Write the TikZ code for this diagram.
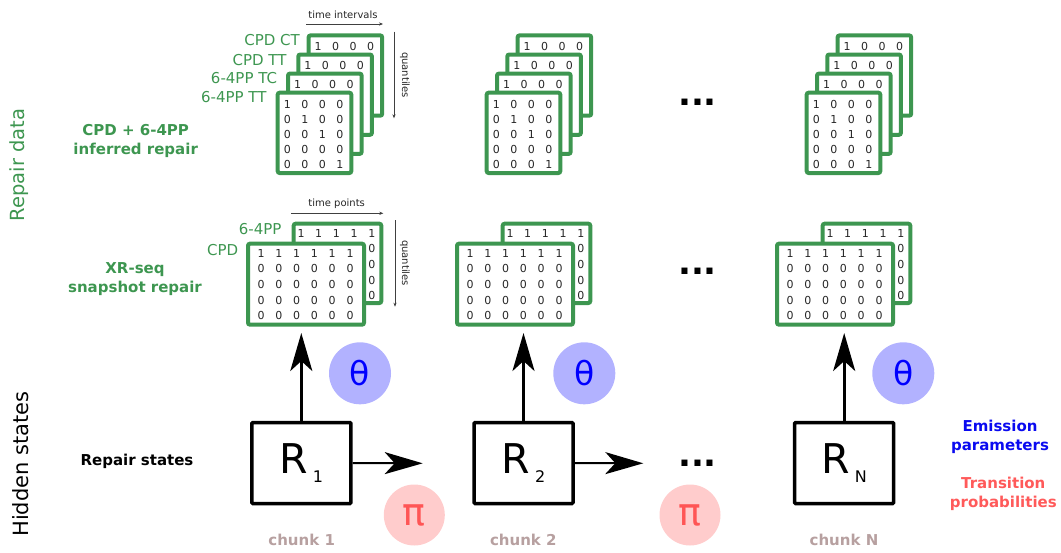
\documentclass[tikz,border=0pt]{standalone}
\usepackage{fontspec}
\setmainfont{DejaVu Sans}
\usetikzlibrary{arrows.meta}
\definecolor{rgreen}{RGB}{61,150,80}
\definecolor{thetafill}{RGB}{178,178,255}
\definecolor{thetatext}{RGB}{0,0,255}
\definecolor{pifill}{RGB}{255,204,204}
\definecolor{pitext}{RGB}{255,85,85}
\definecolor{chunkcol}{RGB}{183,160,160}
\definecolor{emcol}{RGB}{10,10,240}
\definecolor{trcol}{RGB}{255,90,90}
\newcommand{\setfs}[2]{\fontsize{#1}{#2}\selectfont}
\tikzset{
  frame/.style={draw=rgreen, line width=4pt, fill=white, rounded corners=2pt, anchor=north west, inner sep=0pt, outer sep=0pt},
  digit/.style={inner sep=0pt, font=\setfs{11}{13}, text=black!85},
  lbl/.style={inner sep=0pt, anchor=east, text=rgreen, font=\setfs{15}{18}},
  small/.style={inner sep=0pt, font=\setfs{10}{12}, text=black!85},
  smallarrow/.style={-{Stealth[length=4pt,width=3.2pt]}, line width=0.6pt, draw=black!75},
  rbox/.style={draw, line width=3.5pt, minimum width=99pt, minimum height=81pt, inner sep=0pt, rounded corners=1pt},
  bigarrow/.style={-{Stealth[length=38pt,width=22pt,inset=10pt]}, draw=black},
  thetac/.style={circle, fill=thetafill, minimum size=62pt, inner sep=0pt, text=thetatext, font=\setfs{33}{36}},
  pic/.style={circle, fill=pifill, minimum size=61pt, inner sep=0pt, text=pitext, font=\setfs{38}{40}},
  side/.style={inner sep=0pt, align=center, font=\bfseries\setfs{15}{19}},
  chunklbl/.style={inner sep=0pt, text=chunkcol, font=\bfseries\setfs{15}{18}},
  dotsty/.style={inner sep=0pt, font=\bfseries\setfs{34}{36}}
}
\begin{document}
\begin{tikzpicture}[x=1pt,y=-1pt]
\useasboundingbox (0,0) rectangle (1061,552);

% ---------- matrix stacks ----------
\foreach \c/\s in {1/0,2/209,N/529}{
  \begin{scope}[xshift=\s pt]
    % inferred repair stack (top)
    \foreach \k/\lx/\ty in {4/306.6/33.4,3/296.3/52.5,2/286/71.6}{
      \node[frame, minimum width=73.6pt, minimum height=80.3pt] (T\c-\k) at ({\lx+2},{\ty+2}) {};
      \foreach \d [count=\j] in {1,0,0,0}
        \node[digit] (T\c-\k-\j) at ({\lx+11.6+17.5*(\j-1)},{\ty+13}) {\d};
    }
    \node[frame, minimum width=73.6pt, minimum height=80.3pt] (T\c-1) at (277.7,92.7) {};
    \foreach \row [count=\i] in {{1,0,0,0},{0,1,0,0},{0,0,1,0},{0,0,0,0},{0,0,0,1}}
      \foreach \d [count=\j] in \row
        \node[digit] (Tf\c-\i-\j) at ({287.3+17.5*(\j-1)},{104.1+15.1*(\i-1)}) {\d};
    % snapshot repair stack (bottom)
    \node[frame, minimum width=87.6pt, minimum height=79.3pt] (B\c-2) at (293.7,223.7) {};
    \foreach \j in {1,...,5}
      \node[digit] (Bb\c-1-\j) at ({301+17.7*(\j-1)},233.3) {1};
    \foreach \i in {2,...,5}
      \node[digit] (Bb\c-\i-5) at (371.8,{233.3+15.6*(\i-1)}) {0};
    \node[frame, minimum width=116pt, minimum height=81pt] (B\c-1) at (248,243.7) {};
    \foreach \row [count=\i] in {{1,1,1,1,1,1},{0,0,0,0,0,0},{0,0,0,0,0,0},{0,0,0,0,0,0},{0,0,0,0,0,0}}
      \foreach \d [count=\j] in \row
        \node[digit] (Bf\c-\i-\j) at ({261+17.8*(\j-1)},{253.3+15.6*(\i-1)}) {\d};
  \end{scope}
}

% ---------- labels of chunk 1 stacks ----------
\node[lbl] (lCT) at (300,40) {CPD CT};
\node[lbl] (lTT) at (286.7,60) {CPD TT};
\node[lbl] (lTC) at (277.3,77.7) {6-4PP TC};
\node[lbl] (lTT2) at (266.7,96.7) {6-4PP TT};
\node[lbl] (l64) at (281.7,229.3) {6-4PP};
\node[lbl] (lCPD) at (238.3,250) {CPD};

\node[small] (ti) at (343,15) {time intervals};
\coordinate (tia) at (306,24); \coordinate (tib) at (383,24);
\draw[smallarrow] (tia) -- (tib);
\node[small, rotate=-90] (q1) at (405,75) {quantiles};
\coordinate (q1a) at (394,31.7); \coordinate (q1b) at (394,118.3);
\draw[smallarrow] (q1a) -- (q1b);

\node[small] (tp) at (336.7,204) {time points};
\coordinate (tpa) at (291,213.3); \coordinate (tpb) at (383.3,213.3);
\draw[smallarrow] (tpa) -- (tpb);
\node[small, rotate=-90] (q2) at (405,263) {quantiles};
\coordinate (q2a) at (395,220); \coordinate (q2b) at (395,306.7);
\draw[smallarrow] (q2a) -- (q2b);

% ---------- side texts ----------
\node[side, text=rgreen] (inf) at (135.7,140.5) {CPD + 6-4PP\\inferred repair};
\node[side, text=rgreen] (xr) at (135,279.5) {XR-seq\\snapshot repair};
\node[side] (rs) at (137,461) {Repair states};
\node[side, text=emcol] (em) at (1000,437) {Emission\\parameters};
\node[side, text=trcol] (tr) at (1003.3,494.3) {Transition\\probabilities};
\node[inner sep=0pt, rotate=90, text=rgreen, font=\setfs{19.5}{22}] (rd) at (19,165) {Repair data};
\node[inner sep=0pt, rotate=90, font=\setfs{21}{24}] (hs) at (21,464) {Hidden states};

% ---------- dots ----------
\node[dotsty] (d1) at (697.5,102) {...};
\node[dotsty] (d2) at (697.5,271) {...};
\node[dotsty] (d3) at (697.5,463) {...};

% ---------- hidden states ----------
\node[rbox] (R1) at (301.3,463) {\setfs{41}{41}R\hspace{5pt}\raisebox{-8.4pt}{\setfs{16}{16}1}};
\node[rbox] (R2) at (523.5,463) {\setfs{41}{41}R\hspace{5pt}\raisebox{-8.4pt}{\setfs{16}{16}2}};
\node[rbox] (RN) at (844.2,463) {\setfs{41}{41}R\hspace{5pt}\raisebox{-8.4pt}{\setfs{16}{16}N}};

\coordinate (u1) at (301.3,333);
\coordinate (u2) at (523.5,333);
\coordinate (uN) at (844.2,333);
\draw[bigarrow, line width=3pt] (R1.north) -- (u1);
\draw[bigarrow, line width=3pt] (R2.north) -- (u2);
\draw[bigarrow, line width=3pt] (RN.north) -- (uN);

\coordinate (h1) at (422.7,463.3);
\coordinate (h2) at (643.3,463.3);
\draw[bigarrow, line width=2pt] (R1.east) -- (h1);
\draw[bigarrow, line width=2pt] (R2.east) -- (h2);

\node[thetac] (th1) at (360,373.3) {θ};
\node[thetac] (th2) at (584.3,373.3) {θ};
\node[thetac] (thN) at (903.3,373.3) {θ};
\node[pic] (pi1) at (414.3,515) {π};
\node[pic] (pi2) at (690,515) {π};

\node[chunklbl] (c1) at (301.7,540) {chunk 1};
\node[chunklbl] (c2) at (523.3,540) {chunk 2};
\node[chunklbl] (cN) at (844,540) {chunk N};
\end{tikzpicture}
\end{document}
